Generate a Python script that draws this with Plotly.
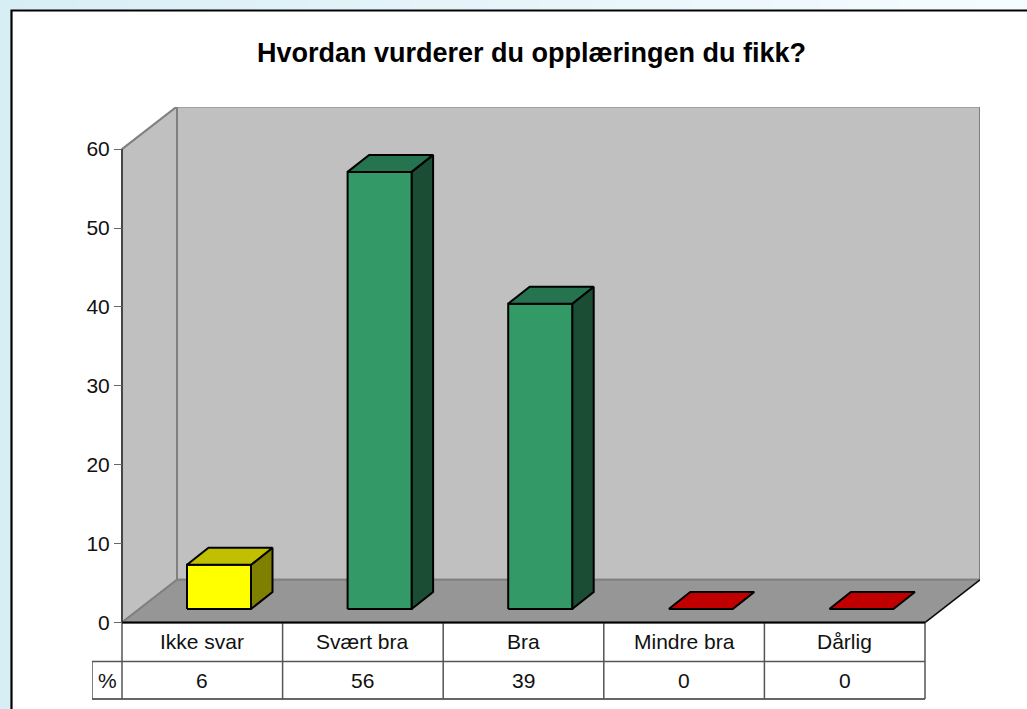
import plotly.graph_objects as go

# ---- data ----
categories = ["Ikke svar", "Svært bra", "Bra", "Mindre bra", "Dårlig"]
bar_values = [5.6, 55.4, 38.7, 0, 0]
table_values = ["6", "56", "39", "0", "0"]
row_label = "%"
y_ticks = [0, 10, 20, 30, 40, 50, 60]
title_text = "Hvordan vurderer du opplæringen du fikk?"

# ---- styles ----
W, H = 1027, 709
X0, X_LEFT, X_BACK, Y0, Y_TOP = 122, 92, 980, 622.5, 107
PX_CAT = 160.6
PX_VAL = 7.89
FONT = "Liberation Sans, Arial, sans-serif"
front = ["#ffff00", "#339966", "#339966", "#c00000", "#c00000"]
top = ["#c0c000", "#267350", "#267350", "#c00000", "#c00000"]
side = ["#808000", "#1a4d33", "#1a4d33", "#600000", "#600000"]

x_max = (X_BACK - X0) / PX_CAT
x_min = -(X0 - X_LEFT) / PX_CAT
y_max = (Y0 - Y_TOP) / PX_VAL
y_min = -(H - Y0) / PX_VAL
n = len(categories)
wall_dx = 55 / PX_CAT
wall_dy = 42.7 / PX_VAL
bar_x = 65 / PX_CAT
bar_w = 64 / PX_CAT
bar_y = 13.5 / PX_VAL
bar_dx = 21.5 / PX_CAT
bar_dy = 17 / PX_VAL

fig = go.Figure()


def poly(xs, ys, fill, line, width=1.5):
    fig.add_trace(go.Scatter(
        x=xs + xs[:1], y=ys + ys[:1], mode="lines", fill="toself", fillcolor=fill,
        line=dict(color=line, width=width), hoverinfo="skip", showlegend=False,
        cliponaxis=False))


def seg(xs, ys, color, width=1.5):
    fig.add_trace(go.Scatter(
        x=xs, y=ys, mode="lines", line=dict(color=color, width=width),
        hoverinfo="skip", showlegend=False, cliponaxis=False))


# walls and floor
y_wall = y_ticks[-1]
poly([wall_dx, x_max, x_max, wall_dx],
     [wall_dy, wall_dy, y_wall + wall_dy, y_wall + wall_dy], "#c0c0c0", "#808080", 2)
poly([0, wall_dx, wall_dx, 0], [0, wall_dy, y_wall + wall_dy, y_wall], "#c0c0c0", "#808080", 2)
poly([0, n, x_max, wall_dx], [0, 0, wall_dy, wall_dy], "#969696", "#808080", 2)
seg([n, x_max], [0, wall_dy], "#000000", 1.2)

# bars
for i, v in enumerate(bar_values):
    l = i + bar_x
    r = l + bar_w
    b = bar_y
    t = bar_y + v
    if v > 0:
        poly([r, r + bar_dx, r + bar_dx, r], [b, b + bar_dy, t + bar_dy, t], side[i], "#000000", 2)
        poly([l, r, r, l], [b, b, t, t], front[i], "#000000", 2)
    poly([l, r, r + bar_dx, l + bar_dx], [t, t, t + bar_dy, t + bar_dy], top[i], "#000000", 2)

# data table under the axis
row1 = -(661.5 - Y0) / PX_VAL
row2 = -(699 - Y0) / PX_VAL
GRID = "#555555"
seg([x_min, n], [row1, row1], GRID)
seg([x_min, n], [row2, row2], "#333333")
seg([x_min, x_min], [row1, row2], GRID)
for i in range(n + 1):
    seg([i, i], [0, row2], GRID)
seg([0, n], [0, 0], "#000000", 2)

annotations = []
for i, c in enumerate(categories):
    annotations.append(dict(x=i + 0.5, y=row1 / 2 + 0.1, text=c, showarrow=False,
                            xref="x", yref="y", font=dict(family=FONT, size=21, color="#111111")))
    annotations.append(dict(x=i + 0.5, y=(row1 + row2) / 2, text=table_values[i], showarrow=False,
                            xref="x", yref="y", font=dict(family=FONT, size=21, color="#111111")))
annotations.append(dict(x=x_min / 2, y=(row1 + row2) / 2, text=row_label, showarrow=False,
                        xref="x", yref="y", font=dict(family=FONT, size=21, color="#111111")))


# page background: pale blue gradient behind a white panel with a black frame
def px(x):
    return (x - X_LEFT) / (X_BACK - X_LEFT)


def py(y):
    return (H - y) / (H - Y_TOP)


shapes = []
steps = 40
c0, c1 = (216, 238, 245), (245, 252, 255)
for k in range(steps):
    f = k / (steps - 1)
    col = "rgb(%d,%d,%d)" % tuple(round(a + (b - a) * f) for a, b in zip(c0, c1))
    shapes.append(dict(type="rect", xref="paper", yref="paper", layer="below",
                       x0=px(k * W / steps), x1=px((k + 1) * W / steps + 1),
                       y0=py(H), y1=py(0), line=dict(width=0), fillcolor=col))
shapes.append(dict(type="rect", xref="paper", yref="paper", layer="below",
                   x0=px(11.5), x1=px(W + 5), y0=py(H + 5), y1=py(10.5),
                   line=dict(color="#000000", width=2.2), fillcolor="#ffffff"))

fig.update_layout(
    width=W, height=H, autosize=False,
    margin=dict(l=X_LEFT, r=W - X_BACK, t=Y_TOP, b=0, pad=0),
    paper_bgcolor="#ffffff", plot_bgcolor="rgba(0,0,0,0)",
    showlegend=False,
    title=dict(text="<b>" + title_text + "</b>", x=531.5 / W, y=1 - 53 / H,
               xanchor="center", yanchor="middle",
               font=dict(family=FONT, size=27, color="#000000")),
    xaxis=dict(range=[x_min, x_max], visible=False, fixedrange=True),
    yaxis=dict(range=[y_min, y_max], tickvals=y_ticks, ticks="outside", ticklen=8, tickwidth=1.3,
               tickcolor="#666666", showgrid=False, zeroline=False, showline=False,
               anchor="free", position=px(X0),
               fixedrange=True, tickfont=dict(family=FONT, size=21, color="#111111")),
    shapes=shapes, annotations=annotations,
)
seg([0, 0], [0, y_wall], "#333333", 1.5)

fig.write_html("out.html", config=dict(displayModeBar=False),
               post_script="document.body.style.margin='0';document.body.style.overflow='hidden';")
